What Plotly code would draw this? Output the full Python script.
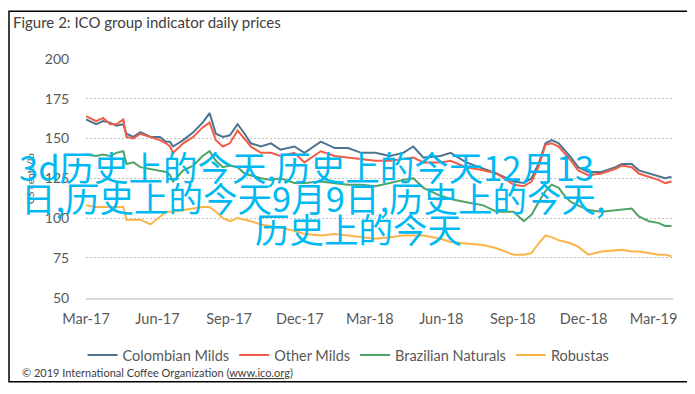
import plotly.graph_objects as go

dates = [
    "2017-03-01", "2017-03-14", "2017-03-23", "2017-04-01", "2017-04-09", "2017-04-18", "2017-04-22",
    "2017-05-01", "2017-05-10", "2017-05-23", "2017-06-04", "2017-06-12", "2017-06-17", "2017-06-21",
    "2017-07-04", "2017-07-17", "2017-07-29", "2017-08-07", "2017-08-15", "2017-08-24", "2017-09-02",
    "2017-09-12", "2017-09-21", "2017-09-29", "2017-10-12", "2017-10-25", "2017-11-06", "2017-11-24",
    "2017-12-07", "2017-12-28", "2018-01-15", "2018-02-01", "2018-02-18", "2018-03-08", "2018-03-27",
    "2018-04-13", "2018-04-26", "2018-05-09", "2018-05-31", "2018-06-13", "2018-07-03", "2018-07-25",
    "2018-08-11", "2018-09-02", "2018-09-15", "2018-09-25", "2018-10-04", "2018-10-13", "2018-10-21",
    "2018-10-30", "2018-11-08", "2018-11-15", "2018-11-24", "2018-12-07", "2018-12-24", "2019-01-11",
    "2019-01-19", "2019-02-01", "2019-02-10", "2019-02-23", "2019-03-07", "2019-03-16", "2019-03-24",
]

colombian_milds = [
    162, 159, 161, 160, 158, 159, 153, 151, 154, 151, 151, 148, 148, 145, 149, 154, 160, 166, 153, 151, 152,
    159, 153, 147, 145, 147, 143, 145, 141, 148, 144, 144, 141, 141, 139, 141, 145, 138, 139, 141, 135, 131,
    128, 123, 122, 125, 134, 147, 149, 147, 142, 138, 132, 129, 129, 132, 134, 134, 130, 128, 126, 125, 126,
]
other_milds = [
    164, 161, 163, 159, 159, 162, 151, 150, 153, 151, 149, 147, 145, 141, 147, 151, 157, 160, 149, 145, 147,
    155, 150, 145, 141, 141, 139, 141, 135, 142, 139, 138, 137, 136, 136, 137, 138, 135, 135, 136, 132, 130,
    128, 121, 120, 123, 132, 146, 147, 145, 140, 136, 130, 127, 128, 131, 133, 132, 128, 126, 124, 122, 123,
]
brazilian_naturals = [
    140, 139, 140, 139, 141, 142, 134, 135, 132, 131, 130, 129, 127, 123, 130, 133, 139, 142, 136, 132, 133,
    132, 128, 127, 125, 124, 125, 122, 122, 123, 122, 121, 121, 120, 122, 124, 125, 119, 114, 112, 110, 108,
    104, 104, 98, 102, 110, 117, 121, 119, 113, 110, 108, 105, 104, 105, 105, 106, 101, 98, 97, 95, 95,
]
robustas = [
    108, 107, 107, 107, 107, 107, 99, 99, 99, 96, 101, 104, 104, 104, 105, 106, 107, 107, 104, 100, 98,
    100, 99, 98, 96, 95, 94, 92, 90, 89, 90, 89, 88, 87, 88, 89, 89, 89, 87, 85, 84, 83,
    81, 77, 77, 78, 84, 89, 88, 86, 85, 84, 82, 77, 79, 80, 80, 79, 79, 78, 77, 77, 76,
]

series_names = ["Colombian Milds", "Other Milds", "Brazilian Naturals", "Robustas"]
series_values = [colombian_milds, other_milds, brazilian_naturals, robustas]
series_colors = ["#4E7391", "#F25C47", "#4FA465", "#FBB447"]

y_ticks = [50, 75, 100, 125, 150, 175, 200]
x_tick_dates = ["2017-03-01", "2017-06-01", "2017-09-01", "2017-12-01", "2018-03-01",
                "2018-06-01", "2018-09-01", "2018-12-01", "2019-03-01"]
x_tick_labels = ["Mar-17", "Jun-17", "Sep-17", "Dec-17", "Mar-18",
                 "Jun-18", "Sep-18", "Dec-18", "Mar-19"]

overlay_lines = ["3d历史上的今天,历史上的今天12月13", "日,历史上的今天9月9日,历史上的今天,", "历史上的今天"]

W, H = 695, 394
L, R, T, B = 78, 30, 51, 91
PW, PH = W - L - R, H - T - B


def px_x(px):
    return (px - L) / PW


def px_y(py):
    return (H - B - py) / PH


fig = go.Figure()
for name, vals, col in zip(series_names, series_values, series_colors):
    fig.add_trace(go.Scatter(x=dates, y=vals, name=name, mode="lines",
                             line=dict(color=col, width=2)))

font_main = "Lato, 'Open Sans', sans-serif"
fig.update_layout(
    width=W, height=H,
    margin=dict(l=L, r=R, t=T, b=B),
    paper_bgcolor="white", plot_bgcolor="white",
    font=dict(family=font_main, color="#595959", size=12),
    title=dict(text="Figure 2: ICO group indicator daily prices", x=5 / W, xref="container",
               xanchor="left", y=1 - 15 / H, yref="container", yanchor="middle",
               font=dict(size=15, color="#404040", family=font_main)),
    legend=dict(orientation="h", xref="container", yref="container", x=0.49, xanchor="center",
                y=1 - 347 / H, yanchor="middle", font=dict(size=14.5, color="#595959"),
                bgcolor="rgba(0,0,0,0)"),
    showlegend=True,
)
fig.update_xaxes(type="date", range=["2017-03-01", "2019-03-26"], tickvals=x_tick_dates,
                 ticktext=x_tick_labels, showgrid=False, showline=True, linecolor="#d9d9d9",
                 linewidth=2, ticks="outside", ticklen=7, tickcolor="rgba(0,0,0,0)",
                 tickfont=dict(size=14.5, color="#595959"), zeroline=False)
fig.update_yaxes(range=[50, 200], tickvals=y_ticks, showgrid=True, gridcolor="#bfbfbf",
                 griddash="2px,2px", gridwidth=1, zeroline=False, ticks="outside", ticklen=13,
                 tickcolor="rgba(0,0,0,0)", tickfont=dict(size=14, color="#595959"))

# y-axis title
fig.add_annotation(text="US cents/lb", textangle=-90, xref="paper", yref="paper",
                   x=px_x(14), y=0.5, showarrow=False, font=dict(size=10, color="#595959"))

# footer
fig.add_annotation(text="© 2019 International Coffee Organization (<u>www.ico.org</u>)",
                   xref="paper", yref="paper", x=px_x(12), y=px_y(382),
                   xanchor="left", yanchor="middle", showarrow=False,
                   font=dict(size=11, color="#404040", family=font_main))

# border frame
fig.add_shape(type="rect", xref="paper", yref="paper",
              x0=px_x(1), x1=px_x(692), y0=px_y(392), y1=px_y(0.5),
              line=dict(color="black", width=1.5), layer="above")

# overlay text
cjk = "'Noto Sans CJK SC', 'Noto Sans CJK JP', sans-serif"
overlay_pos = [(9, 164, "left"), (11, 197, "left"), (350, 230, "center")]
for txt, (px, py, anc) in zip(overlay_lines, overlay_pos):
    fig.add_annotation(text=txt, xref="paper", yref="paper", x=px_x(px), y=px_y(py),
                       xanchor=anc, yanchor="middle", showarrow=False,
                       font=dict(size=34.5, color="#00B9F2", family=cjk))

fig.write_html("out.html")
